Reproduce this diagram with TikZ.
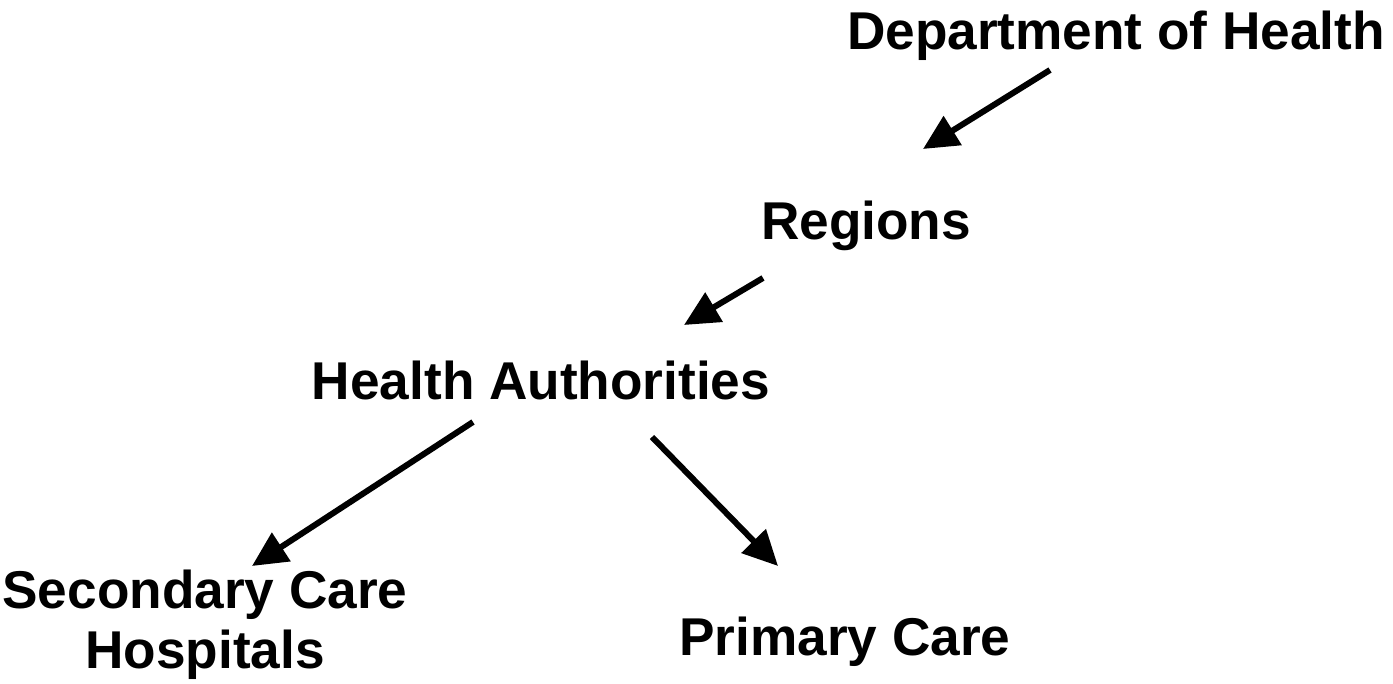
\documentclass[tikz,border=0pt]{standalone}
\usepackage{fontspec}
\setmainfont{Liberation Sans}
\usetikzlibrary{arrows.meta}
\begin{document}
\begin{tikzpicture}[x=1pt,y=-1pt,
  lbl/.style={font=\bfseries\fontsize{53.2}{60}\selectfont, inner sep=0pt, anchor=base, align=center},
  conn/.style={line width=6pt, -{Triangle[length=35pt,width=33pt]}}]
\useasboundingbox (0,0) rectangle (1393,684);
\node[lbl] (doh) at (1116,50) {Department of Health};
\node[lbl] (reg) at (866,240) {Regions};
\node[lbl] (ha) at (541,400) {Health Authorities};
\node[lbl] (sec) at (205,668) {Secondary Care\\Hospitals};
\node[lbl] (pc) at (845,655) {Primary Care};
\coordinate (a1s) at (1050,70); \coordinate (a1e) at (923,149);
\coordinate (a2s) at (763,278); \coordinate (a2e) at (684,325);
\coordinate (a3s) at (473,422); \coordinate (a3e) at (252,566);
\coordinate (a4s) at (652,437); \coordinate (a4e) at (778,566);
\draw[conn] (a1s) -- (a1e);
\draw[conn] (a2s) -- (a2e);
\draw[conn] (a3s) -- (a3e);
\draw[conn] (a4s) -- (a4e);
\end{tikzpicture}
\end{document}
